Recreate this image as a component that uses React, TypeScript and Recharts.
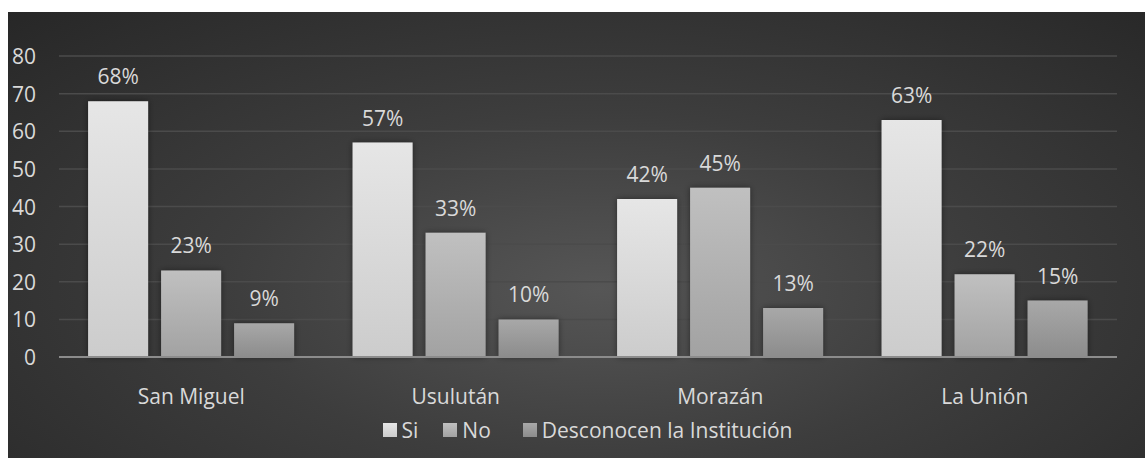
import React from "react";
import { BarChart, Bar, XAxis, YAxis, CartesianGrid, LabelList } from "recharts";

const categories = ["San Miguel", "Usulután", "Morazán", "La Unión"];
const siValues = [68, 57, 42, 63];
const noValues = [23, 33, 45, 22];
const desconocenValues = [9, 10, 13, 15];
const yTicks = [0, 10, 20, 30, 40, 50, 60, 70, 80];

const data = categories.map((name, i) => ({
  name,
  si: siValues[i],
  no: noValues[i],
  desc: desconocenValues[i],
}));

const FONT = "'Open Sans', sans-serif";
const TEXT = "#d9d9d9";
const FS = 21;

const series = [
  { key: "si", label: "Si", top: "#e6e6e6", bottom: "#cccccc" },
  { key: "no", label: "No", top: "#c0c0c0", bottom: "#a2a2a2" },
  { key: "desc", label: "Desconocen la Institución", top: "#a8a8a8", bottom: "#8c8c8c" },
];
const legendGaps = [0, 25, 32];

const XTick = (props: any) => {
  const { x, y, payload } = props;
  return (
    <text x={x} y={y + 31} textAnchor="middle" dominantBaseline="central" fill={TEXT} fontSize={FS} fontFamily={FONT}>
      {payload.value}
    </text>
  );
};

const YTick = (props: any) => {
  const { y, payload } = props;
  return (
    <text x={28} y={y} textAnchor="end" dominantBaseline="central" fill={TEXT} fontSize={FS} fontFamily={FONT}>
      {payload.value}
    </text>
  );
};

export default function App() {
  return (
    <div
      style={{
        position: "absolute",
        left: 8,
        top: 12,
        width: 1137,
        height: 446,
        background: "radial-gradient(ellipse farthest-corner at 52% 62%, #565656 0%, #3d3d3d 45%, #272727 100%)",
      }}
    >
      <BarChart
        width={1137}
        height={446}
        data={data}
        margin={{ top: 44, right: 28, bottom: 71, left: 0 }}
        barCategoryGap="11%"
        barGap={13}
      >
        <defs>
          {series.map((s) => (
            <linearGradient key={s.key} id={`grad-${s.key}`} x1="0" y1="0" x2="0" y2="1">
              <stop offset="0%" stopColor={s.top} />
              <stop offset="100%" stopColor={s.bottom} />
            </linearGradient>
          ))}
          <filter id="shadow" x="-20%" y="-20%" width="140%" height="140%">
            <feDropShadow dx="0" dy="0" stdDeviation="3" floodColor="#000" floodOpacity="0.45" />
          </filter>
        </defs>
        <CartesianGrid vertical={false} stroke="#4b4b4b" strokeWidth={1.5} />
        <XAxis
          dataKey="name"
          height={30}
          tickLine={false}
          axisLine={{ stroke: "#8c8c8c", strokeWidth: 2 }}
          tick={<XTick />}
          interval={0}
        />
        <YAxis
          width={51}
          domain={[0, 80]}
          ticks={yTicks}
          tickLine={false}
          axisLine={false}
          tick={<YTick />}
          interval={0}
        />
        {series.map((s) => (
          <Bar key={s.key} dataKey={s.key} name={s.label} fill={`url(#grad-${s.key})`} filter="url(#shadow)" isAnimationActive={false}>
            <LabelList
              dataKey={s.key}
              position="top"
              offset={17}
              formatter={(v: any) => `${v}%`}
              fill={TEXT}
              fontSize={FS}
              fontFamily={FONT}
            />
          </Bar>
        ))}
      </BarChart>
      <div
        style={{
          position: "absolute",
          left: 22,
          width: 1137 - 22,
          top: 418 - 15,
          height: 30,
          display: "flex",
          justifyContent: "center",
          alignItems: "center",
          fontFamily: FONT,
          fontSize: FS,
          color: TEXT,
        }}
      >
        {series.map((s, i) => (
          <div key={s.key} style={{ display: "flex", alignItems: "center", marginLeft: legendGaps[i] }}>
            <div style={{ width: 14, height: 14, background: `linear-gradient(${s.top}, ${s.bottom})`, marginRight: 5 }} />
            <span>{s.label}</span>
          </div>
        ))}
      </div>
    </div>
  );
}
